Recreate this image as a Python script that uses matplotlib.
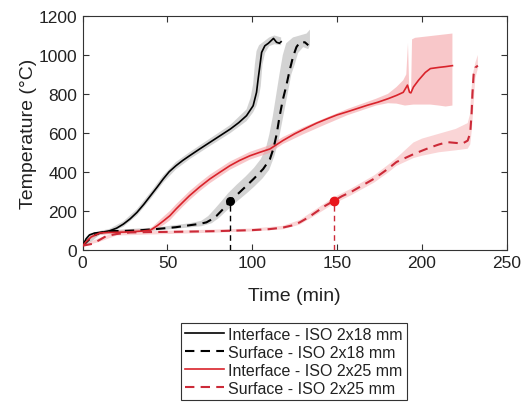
import numpy as np
import matplotlib
matplotlib.use("Agg")
import matplotlib.pyplot as plt

plt.rcParams['font.family'] = ['Liberation Sans', 'DejaVu Sans']

# ---------------- data ----------------
labels = ["Interface - ISO 2x18 mm", "Surface - ISO 2x18 mm",
          "Interface - ISO 2x25 mm", "Surface - ISO 2x25 mm"]

# Interface 2x18 (black solid)
i18_t = [0, 2, 4, 7, 12, 16, 20, 24, 28, 32, 36, 40, 44, 47.5, 51, 55, 59, 63, 69, 75,
         81, 87, 92, 96.6, 100.5, 102.5, 103.5, 104.5, 105.5, 107.4, 109.5, 112.5,
         114.3, 116, 117]
i18_T = [20, 55, 75, 85, 90, 97, 110, 131, 158, 191, 232, 277, 322, 363, 400, 431, 458,
         482, 517, 551, 585, 619, 652, 688, 739, 808, 880, 945, 1013, 1047, 1060, 1085,
         1065, 1060, 1068]
i18_up_t = [0, 2, 4, 10, 16, 24, 32, 40, 47.5, 55, 63, 75, 87, 96.6, 99, 100.5, 101.5,
            102.5, 104, 107, 110, 113, 117]
i18_up_T = [25, 65, 82, 95, 107, 145, 208, 295, 382, 450, 500, 570, 640, 720, 780, 850,
            950, 1020, 1050, 1070, 1090, 1100, 1090]
i18_lo_t = [0, 2, 4, 10, 16, 24, 32, 40, 47.5, 55, 63, 75, 87, 96.6, 100.5, 102.5,
            104, 105, 106, 107.5, 110, 113, 117]
i18_lo_T = [15, 45, 68, 85, 88, 117, 175, 259, 344, 412, 464, 532, 598, 660, 705, 740,
            790, 840, 950, 1010, 1045, 1055, 1050]

# Surface 2x18 (black dashed)
s18_t = [0, 3, 6, 10, 15, 25, 35, 44, 55, 63, 69, 73, 76, 79, 83, 87, 92, 96.6, 101,
         106.4, 110.4, 112.5, 114.3, 116, 118, 120, 122, 124, 126, 128, 131, 133]
s18_T = [20, 45, 70, 85, 95, 96, 100, 106, 115, 125, 132, 140, 155, 174, 210, 251, 290,
         328, 365, 414, 465, 520, 590, 680, 770, 840, 920, 990, 1040, 1065, 1065, 1050]
s18_up_t = [0, 5, 10, 20, 44, 63, 70, 74, 78, 82, 86, 91, 96, 101, 105, 108, 110, 112,
            114, 116, 118, 120, 124, 128, 132, 134]
s18_up_T = [25, 70, 92, 102, 114, 135, 148, 172, 210, 250, 292, 335, 375, 420, 465, 520,
            590, 680, 790, 900, 1000, 1060, 1090, 1100, 1110, 1130]
s18_lo_t = [0, 5, 10, 20, 44, 63, 70, 76, 80, 85, 90, 96.6, 101, 106, 110, 113, 115.5,
            117.5, 119.5, 121.5, 123, 125, 127, 130, 133, 134]
s18_lo_T = [15, 40, 75, 88, 98, 114, 120, 135, 160, 200, 240, 288, 322, 365, 410, 480,
            560, 650, 740, 830, 900, 950, 1010, 1040, 1030, 1050]

# Interface 2x25 (red solid)
i25_t = [0, 2, 5, 10, 15, 25, 35, 40, 44, 48, 51.4, 55, 59, 63, 69, 75, 81, 86.8, 92.5,
         98.6, 104.5, 110.4, 118, 125, 132, 138, 145, 150, 156, 162, 168, 174, 180,
         185, 189, 191.5, 192.7, 193.5, 195, 198, 202, 205, 210, 214, 218]
i25_T = [20, 40, 65, 85, 88, 90, 95, 100, 123, 150, 174, 208, 243, 277, 322, 363, 398,
         431, 458, 482, 500, 517, 560, 595, 625, 650, 675, 692, 708, 725, 742, 757, 775,
         792, 808, 845, 808, 805, 835, 870, 910, 930, 936, 940, 945]
i25_up_t = [0, 5, 10, 40, 44, 48, 51.4, 55, 59, 63, 69, 75, 86.8, 98.6, 110.4, 118, 130,
            142, 156, 173, 180, 185, 189, 190.8, 191.8, 192.6, 193.6, 194.2, 196, 218]
i25_up_T = [25, 75, 95, 108, 140, 172, 198, 232, 266, 300, 344, 385, 452, 502, 537, 578,
            628, 672, 722, 775, 800, 835, 870, 900, 1060, 810, 810, 1080, 1088, 1110]
i25_lo_t = [0, 5, 10, 40, 44, 48, 51.4, 55, 59, 63, 69, 75, 86.8, 98.6, 110.4, 118, 130,
            142, 156, 173, 180, 185, 190, 195, 205, 210, 214, 218]
i25_lo_T = [15, 55, 75, 92, 106, 128, 150, 184, 220, 254, 300, 341, 410, 462, 497, 542,
            592, 638, 690, 740, 752, 750, 740, 745, 745, 740, 735, 740]

# Surface 2x25 (red dashed)
s25_t = [0, 3, 6, 10, 14, 20, 28, 40, 60, 80, 100, 110, 118, 124, 128, 133, 138, 143,
         148, 153, 158, 165, 172, 180, 185, 190, 195, 200, 205, 210, 215, 220, 224, 227,
         228.5, 229.3, 229.8, 230.5, 231.5, 233]
s25_T = [20, 25, 30, 50, 70, 80, 88, 90, 92, 95, 100, 105, 113, 125, 140, 165, 195, 225,
         250, 275, 295, 330, 365, 415, 450, 470, 490, 508, 525, 540, 552, 548, 545, 560,
         600, 700, 800, 900, 935, 945]
s25_up_t = [0, 10, 20, 100, 118, 128, 138, 148, 158, 172, 180, 185, 190, 195, 200, 210,
            220, 227, 228.5, 229, 230, 231.5, 233]
s25_up_T = [25, 60, 90, 108, 122, 152, 210, 268, 312, 382, 435, 470, 510, 550, 570, 595,
            620, 650, 700, 800, 900, 960, 1000]
s25_lo_t = [0, 10, 20, 100, 118, 128, 138, 148, 158, 172, 180, 185, 190, 195, 200, 210,
            220, 227, 228.5, 229.5, 230.5, 231.5, 233]
s25_lo_T = [15, 40, 72, 93, 104, 128, 180, 235, 278, 345, 395, 430, 450, 470, 482, 500,
            510, 518, 540, 620, 750, 880, 930]

# marker points (time, temperature)
mark18 = (87, 250)
mark25 = (148, 250)

x_ticks = [0, 50, 100, 150, 200, 250]
y_ticks = [0, 200, 400, 600, 800, 1000, 1200]

# ---------------- plot ----------------
fig = plt.figure(figsize=(5.22, 4.06), dpi=100)
ax = fig.add_axes([0.1584, 0.3828, 0.8123, 0.5753])

BLACK = '#000000'
RED = '#d9232b'
RED_D = '#cc2a38'
GRAY_BAND = '#c9c9c9'
PINK_BAND = '#f4a3a6'


def band(ut, uT, lt, lT, color, alpha):
    xs = np.concatenate([np.asarray(ut, float), np.asarray(lt, float)[::-1]])
    ys = np.concatenate([np.asarray(uT, float), np.asarray(lT, float)[::-1]])
    ax.fill(xs, ys, color=color, alpha=alpha, lw=0, zorder=1)


band(i18_up_t, i18_up_T, i18_lo_t, i18_lo_T, GRAY_BAND, 0.8)
band(s18_up_t, s18_up_T, s18_lo_t, s18_lo_T, GRAY_BAND, 0.8)
band(i25_up_t, i25_up_T, i25_lo_t, i25_lo_T, PINK_BAND, 0.6)
band(s25_up_t, s25_up_T, s25_lo_t, s25_lo_T, PINK_BAND, 0.45)

dash = (0, (4.5, 3))
l1, = ax.plot(i18_t, i18_T, color=BLACK, lw=1.2, zorder=3)
l2, = ax.plot(s18_t, s18_T, color=BLACK, lw=1.5, ls=dash, zorder=3)
l3, = ax.plot(i25_t, i25_T, color=RED, lw=1.2, zorder=3)
l4, = ax.plot(s25_t, s25_T, color=RED_D, lw=1.5, ls=dash, zorder=3)

# markers with drop lines
ax.plot([mark18[0], mark18[0]], [0, mark18[1]], color=BLACK, lw=1.0, ls=(0, (4, 3)), zorder=3)
ax.plot([mark18[0]], [mark18[1]], 'o', color=BLACK, ms=5.5, zorder=4)
ax.plot([mark25[0], mark25[0]], [0, mark25[1]], color=RED_D, lw=1.0, ls=(0, (4, 3)), zorder=3)
ax.plot([mark25[0]], [mark25[1]], 'o', color='#e8161c', ms=6, zorder=4)

ax.set_xlim(0, 250)
ax.set_ylim(0, 1200)
ax.set_xticks(x_ticks)
ax.set_yticks(y_ticks)
ax.tick_params(direction='in', length=4, width=0.8, labelsize=12.5, colors='#333333',
               top=True, right=True, pad=4)
for lbl in ax.get_xticklabels() + ax.get_yticklabels():
    lbl.set_color('#222222')
for sp in ax.spines.values():
    sp.set_color('#333333')
    sp.set_linewidth(0.8)

ax.set_xlabel('Time (min)', fontsize=14, color='#222222', labelpad=12)
ax.set_ylabel('Temperature (°C)', fontsize=14, color='#222222', labelpad=1)

leg = fig.legend([l1, l2, l3, l4], labels, loc='upper center',
                 bbox_to_anchor=(0.5634, 0.202), fontsize=11.5, frameon=True,
                 fancybox=False, edgecolor='#333333', framealpha=1,
                 handlelength=2.4, handletextpad=0.3, labelspacing=0.18,
                 borderpad=0.25, borderaxespad=0)
leg.get_frame().set_linewidth(0.8)
for t in leg.get_texts():
    t.set_color('#222222')

fig.savefig('out.png', dpi=100)
